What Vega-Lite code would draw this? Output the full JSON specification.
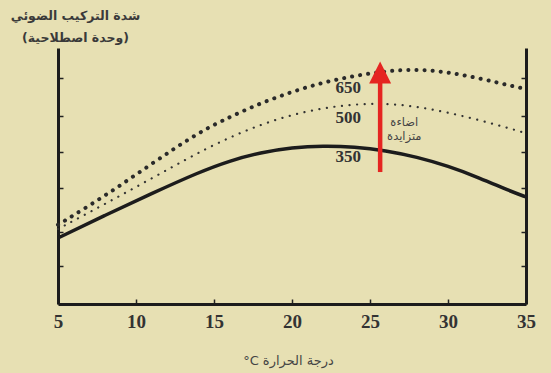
{
  "$schema": "https://vega.github.io/schema/vega-lite/v6.json",
  "width": 468,
  "height": 256,
  "autosize": "none",
  "padding": {"left": 58, "top": 48, "right": 25, "bottom": 69},
  "background": "#e7e0b3",
  "config": {"view": {"stroke": null}, "font": "DejaVu Sans"},
  "datasets": {
    "curves": [
      {"light": "350", "t": 5, "v": 1.75}, {"light": "350", "t": 8, "v": 2.35}, {"light": "350", "t": 11, "v": 2.93},
      {"light": "350", "t": 14, "v": 3.49}, {"light": "350", "t": 16, "v": 3.8}, {"light": "350", "t": 18, "v": 4.02},
      {"light": "350", "t": 20, "v": 4.15}, {"light": "350", "t": 22, "v": 4.2}, {"light": "350", "t": 24, "v": 4.17},
      {"light": "350", "t": 26, "v": 4.07}, {"light": "350", "t": 28, "v": 3.9}, {"light": "350", "t": 30, "v": 3.66},
      {"light": "350", "t": 32, "v": 3.35}, {"light": "350", "t": 34, "v": 2.99}, {"light": "350", "t": 35, "v": 2.84},
      {"light": "500", "t": 5, "v": 1.99}, {"light": "500", "t": 8, "v": 2.65}, {"light": "500", "t": 11, "v": 3.33},
      {"light": "500", "t": 14, "v": 4.02}, {"light": "500", "t": 16, "v": 4.42}, {"light": "500", "t": 18, "v": 4.76},
      {"light": "500", "t": 20, "v": 5.02}, {"light": "500", "t": 22, "v": 5.2}, {"light": "500", "t": 24, "v": 5.3},
      {"light": "500", "t": 26, "v": 5.32}, {"light": "500", "t": 28, "v": 5.24}, {"light": "500", "t": 30, "v": 5.08},
      {"light": "500", "t": 32, "v": 4.88}, {"light": "500", "t": 34, "v": 4.65}, {"light": "500", "t": 35, "v": 4.53},
      {"light": "650", "t": 5, "v": 2.1}, {"light": "650", "t": 8, "v": 2.86}, {"light": "650", "t": 11, "v": 3.72},
      {"light": "650", "t": 14, "v": 4.55}, {"light": "650", "t": 16, "v": 4.96}, {"light": "650", "t": 18, "v": 5.33},
      {"light": "650", "t": 20, "v": 5.63}, {"light": "650", "t": 22, "v": 5.88}, {"light": "650", "t": 24, "v": 6.05},
      {"light": "650", "t": 26, "v": 6.18}, {"light": "650", "t": 28, "v": 6.23}, {"light": "650", "t": 30, "v": 6.15},
      {"light": "650", "t": 32, "v": 5.99}, {"light": "650", "t": 34, "v": 5.79}, {"light": "650", "t": 35, "v": 5.7}
    ],
    "numlabels": [
      {"t": 23.6, "v": 5.73, "text": "650"},
      {"t": 23.6, "v": 4.93, "text": "500"},
      {"t": 23.6, "v": 3.9, "text": "350"}
    ],
    "arlabels": [
      {"t": 27.2, "v": 4.8, "text": "اضاءة"},
      {"t": 27.2, "v": 4.43, "text": "متزايدة"}
    ],
    "arrow": [{"t": 25.65, "v0": 3.5, "v1": 5.94, "tip": 6.14}]
  },
  "resolve": {"axis": {"x": "independent", "y": "independent"}},
  "layer": [
    {
      "data": {"name": "curves"},
      "transform": [{"filter": "datum.light == '350'"}],
      "mark": {"type": "line", "interpolate": "basis", "color": "#1c1c1c", "strokeWidth": 3.5},
      "encoding": {
        "x": {
          "field": "t", "type": "quantitative", "scale": {"domain": [5, 35], "nice": false, "zero": false},
          "axis": {
            "values": [5, 10, 15, 20, 25, 30, 35], "grid": false, "tickSize": -5, "tickWidth": 1.5, "tickColor": "#222",
            "domainWidth": 3, "domainColor": "#1c1c1c",
            "labelFont": "Liberation Serif", "labelFontSize": 19, "labelFontWeight": "bold", "labelColor": "#333",
            "labelPadding": 13, "labelFlush": false, "labelOverlap": false, "labelBound": false,
            "title": "°C درجة الحرارة", "titleFont": "DejaVu Sans", "titleFontSize": 13, "titleFontWeight": "normal",
            "titleColor": "#444", "titleX": 230, "titleY": 56, "titleBaseline": "middle", "titleAlign": "center"
          }
        },
        "y": {
          "field": "v", "type": "quantitative", "scale": {"domain": [0, 6.79], "nice": false, "zero": false},
          "axis": {
            "orient": "left", "values": [1, 1.91, 3.08, 4.03, 4.99, 5.99], "labels": false, "grid": false,
            "tickSize": -5, "tickWidth": 1.5, "tickColor": "#222", "domainWidth": 3, "domainColor": "#1c1c1c",
            "title": ["شدة التركيب الضوئي", "(وحدة اصطلاحية)"], "titleAngle": 0, "titleAlign": "center",
            "titleBaseline": "top", "titleX": 17, "titleY": -39, "titleFont": "DejaVu Sans", "titleFontSize": 12.5,
            "titleFontWeight": "bold", "titleColor": "#3a3a3a", "titleLineHeight": 22
          }
        }
      }
    },
    {
      "data": {"name": "curves"},
      "transform": [{"filter": "datum.light == '500'"}],
      "mark": {"type": "line", "interpolate": "basis", "color": "#333", "strokeWidth": 2.2, "strokeDash": [0.1, 7.5], "strokeCap": "round"},
      "encoding": {
        "x": {"field": "t", "type": "quantitative", "axis": null},
        "y": {"field": "v", "type": "quantitative", "axis": null}
      }
    },
    {
      "data": {"name": "curves"},
      "transform": [{"filter": "datum.light == '650'"}],
      "mark": {"type": "line", "interpolate": "basis", "color": "#2a2a2a", "strokeWidth": 4, "strokeDash": [0.1, 8], "strokeCap": "round"},
      "encoding": {
        "x": {"field": "t", "type": "quantitative", "axis": null},
        "y": {"field": "v", "type": "quantitative", "axis": null}
      }
    },
    {
      "data": {"name": "numlabels"},
      "mark": {"type": "text", "font": "Liberation Serif", "fontSize": 17, "fontWeight": "bold", "color": "#333", "align": "center", "baseline": "middle"},
      "encoding": {
        "x": {"field": "t", "type": "quantitative", "axis": null},
        "y": {"field": "v", "type": "quantitative", "axis": null},
        "text": {"field": "text"}
      }
    },
    {
      "data": {"name": "arlabels"},
      "mark": {"type": "text", "font": "DejaVu Sans", "fontSize": 11.5, "color": "#444", "align": "center", "baseline": "middle"},
      "encoding": {
        "x": {"field": "t", "type": "quantitative", "axis": null},
        "y": {"field": "v", "type": "quantitative", "axis": null},
        "text": {"field": "text"}
      }
    },
    {
      "data": {"name": "arrow"},
      "mark": {"type": "rule", "color": "#e52521", "strokeWidth": 4.5},
      "encoding": {
        "x": {"field": "t", "type": "quantitative", "axis": null},
        "y": {
          "field": "v0", "type": "quantitative",
          "axis": {
            "orient": "right", "values": [1, 1.91, 3.08, 4.03, 4.99, 5.99], "labels": false, "grid": false,
            "tickSize": -5, "tickWidth": 1.5, "tickColor": "#222", "domainWidth": 3, "domainColor": "#1c1c1c", "title": null
          }
        },
        "y2": {"field": "v1"}
      }
    },
    {
      "data": {"name": "arrow"},
      "mark": {"type": "point", "shape": "M0,-1L1,1L-1,1Z", "filled": true, "color": "#e52521", "opacity": 1, "size": 484},
      "encoding": {
        "x": {"field": "t", "type": "quantitative", "axis": null},
        "y": {"field": "tip", "type": "quantitative", "axis": null}
      }
    }
  ]
}
